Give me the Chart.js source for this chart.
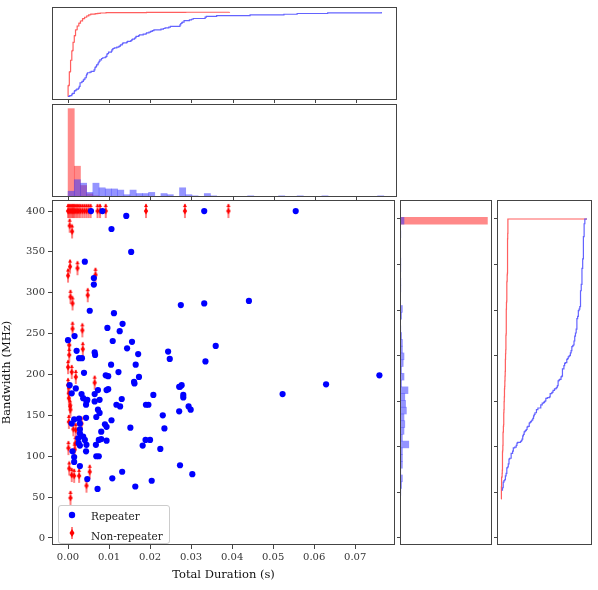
<!DOCTYPE html>
<html><head><meta charset="utf-8">
<script src="https://cdn.jsdelivr.net/npm/chart.js@4.4.0/dist/chart.umd.min.js"></script>
<style>
body{margin:0;background:#fff;width:598px;height:590px;position:relative;overflow:hidden;font-family:"DejaVu Serif",serif}
canvas{position:absolute}
#legend{position:absolute;left:58px;top:505px;width:110px;height:37px;border:1px solid #ccc;border-radius:3px;background:rgba(255,255,255,0.85);font-size:10.5px;color:#222;white-space:nowrap}
#legend div{height:16px;line-height:16px;margin-top:2px;padding-left:8px}
#legend span{display:inline-block;width:24px}
</style></head>
<body>
<canvas id="topCdf"></canvas>
<canvas id="topHist"></canvas>
<canvas id="main"></canvas>
<canvas id="rightHist"></canvas>
<canvas id="rightCdf"></canvas>
<div id="legend">
  <div><span><svg width="10" height="10"><circle cx="5" cy="5" r="3.2" fill="#0000ff"/></svg></span>Repeater</div>
  <div><span><svg width="10" height="14"><line x1="5" y1="1" x2="5" y2="13" stroke="red"/><polygon points="5,3 7.5,7 5,11 2.5,7" fill="red"/></svg></span>Non-repeater</div>
</div>
<script>
// === Data ===
// Repeater bursts: total duration (s), bandwidth (MHz)
const repX = [0.0056,0.0084,0.0332,0.0555,0.0142,0.0106,0.0154,0.0041,0.0063,0.0063,0.0275,0.0332,0.0441,0.0053,0.0112,0.0133,0.0096,0.0126,0.0016,0.0000,0.0109,0.0156,0.0360,0.0144,0.0021,0.0065,0.0244,0.0066,0.0171,0.0027,0.0034,0.0248,0.0335,0.0105,0.0165,0.0039,0.0123,0.0092,0.0098,0.0173,0.0759,0.0629,0.0004,0.0162,0.0273,0.0277,0.0523,
  0.0009,0.0019,0.0033,0.0037,0.0045,0.0044,0.0047,0.0065,0.0073,0.0077,0.0065,0.0073,0.0077,0.0069,0.0094,0.0098,0.0118,0.0127,0.0131,0.0152,0.0106,0.0094,0.0090,0.0081,0.0075,0.0081,0.0094,0.0068,0.0044,0.0069,0.0075,0.0045,0.0041,0.0037,0.0044,0.0027,0.0015,0.0009,0.0029,0.0029,0.0029,0.0025,0.0026,0.0029,0.0011,0.0015,0.0015,0.0029,0.0161,0.0208,0.0190,0.0196,0.0189,0.0200,0.0182,0.0225,0.0231,0.0235,0.0271,0.0281,0.0281,0.0271,0.0294,0.0299,0.0273,0.0303,0.0204,0.0164,0.0132,0.0108,0.0047,0.0072];
const repY = [400,400,400,400,394,378,350,338,318,310,285,287,290,278,275,262,257,253,247,242,241,240,235,232,229,227,228,224,225,220,220,219,216,212,212,202,203,199,198,197,199,188,187,189,185,187,176,
  177,183,176,171,167,163,169,176,181,169,167,157,153,148,181,182,163,161,170,135,144,136,139,130,120,121,119,114,106,100,100,114,120,124,147,146,145,140,140,133,128,122,116,113,106,99,93,88,191,175,163,163,120,120,113,109,150,134,185,175,172,155,161,157,89,78,70,63,81,73,72,60];
// Non-repeater bursts below the 400 MHz edge
const nonX = [0.0004,0.0010,0.0000,0.0005,0.0023,0.0067,0.0006,0.0011,0.0048,0.0011,0.0035,0.0003,0.0003,0.0036,0.0000,0.0009,0.0019,0.0065,0.0000,0.0002,0.0002,0.0005,0.0006,0.0002,0.0013,0.0033,0.0019,0.0018,0.0016,0.0001,0.0003,0.0009,0.0015,0.0027,0.0053,0.0045,0.0006];
const nonY = [382,375,321,332,330,322,295,287,297,256,254,236,224,231,209,203,197,190,187,177,171,161,157,142,133,140,132,116,108,110,85,77,76,76,81,64,49];
// Non-repeater bursts at the 400 MHz edge: duration and how many sit there
const nonTopX = [0.0000,0.0003,0.0006,0.0009,0.0012,0.0015,0.0018,0.0022,0.0026,0.0030,0.0035,0.0040,0.0045,0.0050,0.0055,0.0072,0.0078,0.0092,0.0190,0.0285,0.0391];
const nonTopN = [60,70,60,50,45,35,30,20,15,12,10,8,6,5,4,2,2,2,1,1,1];
const topBand = 400;

const BLUE = '#0000ff', RED = '#ff0000';
const blueLine = 'rgba(60,60,255,0.8)', redLine = 'rgba(255,40,40,0.75)';
const blueFill = 'rgba(60,60,255,0.55)', redFill = 'rgba(255,40,40,0.55)';
const xMin = -0.0039, xMax = 0.0797, yMin = -8.6, yMax = 413.5;

// all non-repeater values, the 400 MHz group expanded by its count
const nonAllX = nonX.slice(), nonAllY = nonY.slice();
nonTopX.forEach((x, i) => { for (let k = 0; k < nonTopN[i]; k++) { nonAllX.push(x); nonAllY.push(topBand); } });

function cdf(vals) {
  const s = vals.slice().sort((a, b) => a - b);
  return s.map((v, i) => ({ v, f: (i + 1) / s.length }));
}
function hist(vals, start, width, n) {
  const h = Array(n).fill(0);
  vals.forEach(v => { const i = Math.floor((v - start) / width); if (i >= 0 && i < n) h[i]++; });
  return h.map((c, i) => ({ c: start + (i + 0.5) * width, d: c / (vals.length * width) }));
}

const framePlugin = {
  id: 'frame',
  afterDraw(chart) {
    const a = chart.chartArea, ctx = chart.ctx;
    ctx.save(); ctx.strokeStyle = '#444'; ctx.lineWidth = 1;
    ctx.strokeRect(a.left + 0.5, a.top + 0.5, a.right - a.left - 1, a.bottom - a.top - 1);
    ctx.restore();
  }
};
Chart.register(framePlugin);
Chart.defaults.font.family = '"DejaVu Serif", serif';
Chart.defaults.animation = false;
Chart.defaults.responsive = false;
Chart.defaults.plugins.legend.display = false;
Chart.defaults.plugins.tooltip.enabled = false;

function place(id, left, top, w, h) {
  const c = document.getElementById(id);
  c.width = w; c.height = h; c.style.left = left + 'px'; c.style.top = top + 'px';
  return c;
}
function fixedTicks(vals) { return s => { s.ticks = vals.map(v => ({ value: v })); }; }
function fitTo(size) {
  return s => {
    if (s.isHorizontal()) { s.height = size; s.paddingLeft = 0; s.paddingRight = 0; }
    else { s.width = size; s.paddingTop = 0; s.paddingBottom = 0; }
  };
}
function hiddenAxis(size, extra) {
  return Object.assign({
    type: 'linear', offset: false, ticks: { display: false }, border: { display: false },
    grid: { display: false }, afterFit: fitTo(size)
  }, extra);
}
function tickAxis(size, extra, ticksVals) {
  return Object.assign({
    type: 'linear', offset: false, ticks: { display: false }, border: { display: false },
    grid: { drawOnChartArea: false, drawTicks: true, tickLength: 3, color: '#444', offset: false },
    afterBuildTicks: fixedTicks(ticksVals), afterFit: fitTo(size)
  }, extra);
}
const xTickVals = [0, 0.01, 0.02, 0.03, 0.04, 0.05, 0.06, 0.07];
const yTickVals = [0, 50, 100, 150, 200, 250, 300, 350, 400];

// === Top CDF ===
new Chart(place('topCdf', 0, 7, 400, 97), {
  type: 'line',
  data: { datasets: [
    { data: cdf(repX).map(p => ({ x: p.v, y: p.f })), borderColor: blueLine, borderWidth: 1.2, pointRadius: 0, stepped: true },
    { data: cdf(nonAllX).map(p => ({ x: p.v, y: p.f })), borderColor: redLine, borderWidth: 1.2, pointRadius: 0, stepped: true }
  ] },
  options: { layout: { padding: { right: 3, top: 0 } },
    scales: { x: tickAxis(4, { min: xMin, max: xMax }, xTickVals), y: hiddenAxis(52, { min: -0.035, max: 1.06 }) } }
});

// === Top histogram ===
const tb = hist(repX, 0, 0.0015, 52), tr = hist(nonAllX, 0, 0.0015, 52);
const tMax = Math.max(...tr.map(p => p.d)) / 0.95;
new Chart(place('topHist', 0, 104, 400, 97), {
  type: 'bar',
  data: { datasets: [
    { data: tb.map(p => ({ x: p.c, y: p.d })), backgroundColor: blueFill, barPercentage: 1, categoryPercentage: 1, grouped: false },
    { data: tr.map(p => ({ x: p.c, y: p.d })), backgroundColor: redFill, barPercentage: 1, categoryPercentage: 1, grouped: false }
  ] },
  options: { layout: { padding: { right: 3 } },
    scales: { x: tickAxis(4, { min: xMin, max: xMax }, xTickVals), y: hiddenAxis(52, { min: 0, max: tMax }) } }
});

// === Main scatter ===
const diamond = document.createElement('canvas');
diamond.width = 6; diamond.height = 16;
(() => {
  const g = diamond.getContext('2d');
  g.strokeStyle = RED; g.fillStyle = RED; g.lineWidth = 1;
  g.beginPath(); g.moveTo(3, 1); g.lineTo(3, 15); g.stroke();
  g.beginPath(); g.moveTo(3, 0.5); g.lineTo(5, 4); g.lineTo(1, 4); g.closePath(); g.fill();
  g.beginPath(); g.moveTo(3, 4.5); g.lineTo(5.2, 8); g.lineTo(3, 11.5); g.lineTo(0.8, 8); g.closePath(); g.fill();
})();
const nonPts = nonX.map((x, i) => ({ x, y: nonY[i] })).concat(nonTopX.map(x => ({ x, y: topBand })));
new Chart(place('main', 0, 195, 400, 395), {
  type: 'scatter',
  data: { datasets: [
    { data: repX.map((x, i) => ({ x, y: repY[i] })), backgroundColor: BLUE, borderColor: BLUE, pointRadius: 3.1, pointBorderWidth: 0 },
    { data: nonPts, pointStyle: diamond }
  ] },
  options: { layout: { padding: { right: 3, bottom: 8 } },
    scales: {
      x: { type: 'linear', min: xMin, max: xMax, afterBuildTicks: fixedTicks(xTickVals),
        ticks: { color: '#333', font: { size: 10 }, padding: 2, maxRotation: 0, autoSkip: false, callback: v => v.toFixed(2) },
        grid: { drawOnChartArea: false, tickLength: 4, color: '#444' }, border: { display: false },
        title: { display: true, text: 'Total Duration (s)', color: '#111', font: { size: 11.5 }, padding: 0 },
        afterFit: fitTo(37) },
      y: { type: 'linear', min: yMin, max: yMax, afterBuildTicks: fixedTicks(yTickVals),
        ticks: { color: '#333', font: { size: 10 }, padding: 3 },
        grid: { drawOnChartArea: false, tickLength: 4, color: '#444' }, border: { display: false },
        title: { display: true, text: 'Bandwidth (MHz)', color: '#111', font: { size: 11.5 }, padding: 0 },
        afterFit: fitTo(52) }
    } }
});

// === Right histogram ===
const ryMin = -8.8, ryMax = 423.8;
const rTicks = [0, 57.14, 114.29, 171.43, 228.57, 285.71, 342.86, 400];
const rb = hist(repY, 45, 8.5, 43), rr = hist(nonAllY, 45, 8.5, 43);
const rMax = Math.max(...rr.map(p => p.d)) / 0.95;
new Chart(place('rightHist', 397, 200, 97, 390), {
  type: 'bar',
  data: { datasets: [
    { data: rb.map(p => ({ y: p.c, x: p.d })), backgroundColor: blueFill, barPercentage: 1, categoryPercentage: 1, grouped: false },
    { data: rr.map(p => ({ y: p.c, x: p.d })), backgroundColor: redFill, barPercentage: 1, categoryPercentage: 1, grouped: false }
  ] },
  options: { indexAxis: 'y', layout: { padding: { right: 2 } },
    scales: { x: hiddenAxis(45, { min: 0, max: rMax }), y: tickAxis(3, { min: ryMin, max: ryMax }, rTicks) } }
});

// === Right CDF ===
new Chart(place('rightCdf', 494, 200, 100, 390), {
  type: 'line',
  data: { datasets: [
    { data: cdf(repY).map(p => ({ x: p.f, y: p.v })), borderColor: blueLine, borderWidth: 1.2, pointRadius: 0, stepped: true },
    { data: cdf(nonAllY).map(p => ({ x: p.f, y: p.v })), borderColor: redLine, borderWidth: 1.2, pointRadius: 0, stepped: true }
  ] },
  options: { layout: { padding: { right: 2 } },
    scales: { x: hiddenAxis(45, { min: -0.047, max: 1.058 }), y: tickAxis(3, { min: ryMin, max: ryMax }, rTicks) } }
});
</script>
</body></html>
